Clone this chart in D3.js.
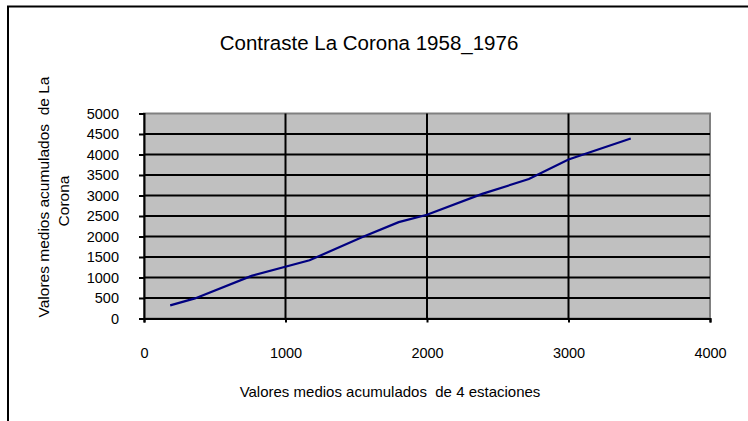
<!DOCTYPE html>
<html>
<head>
<meta charset="utf-8">
<script src="https://cdn.jsdelivr.net/npm/d3@7"></script>
<style>
  body { margin: 0; background: #fff; }
  text { font-family: "Liberation Sans", Arial, sans-serif; fill: #000; }
</style>
</head>
<body>
<script>
// cumulative mean values
const acumEstaciones = [185, 360, 760, 1170, 1540, 1800, 2000, 2390, 2720, 3000, 3440];
const acumCorona = [320, 490, 1040, 1420, 1980, 2350, 2530, 3040, 3400, 3880, 4390];
const xTicks = [0, 1000, 2000, 3000, 4000];
const yTicks = [0, 500, 1000, 1500, 2000, 2500, 3000, 3500, 4000, 4500, 5000];

const width = 748, height = 421;
const plot = { left: 144, right: 710, top: 113.5, bottom: 318.5 };

const svg = d3.select('body').append('svg')
    .attr('width', width)
    .attr('height', height);

// outer frame (only left and top edges visible)
svg.append('rect')
    .attr('x', 8).attr('y', 6.5)
    .attr('width', 800).attr('height', 500)
    .attr('fill', 'none').attr('stroke', '#000').attr('stroke-width', 2);

const x = d3.scaleLinear().domain([0, 4000]).range([plot.left, plot.right]);
const y = d3.scaleLinear().domain([0, 5000]).range([plot.bottom, plot.top]);

// grey plot area
svg.append('rect')
    .attr('x', plot.left).attr('y', plot.top)
    .attr('width', plot.right - plot.left).attr('height', plot.bottom - plot.top)
    .attr('fill', '#c0c0c0')
    .attr('stroke', '#808080').attr('stroke-width', 2);

// gridlines
svg.append('g').selectAll('line.h')
    .data(yTicks.filter(d => d > 0 && d < 5000))
    .enter().append('line')
    .attr('x1', plot.left).attr('x2', plot.right)
    .attr('y1', d => y(d)).attr('y2', d => y(d))
    .attr('stroke', '#000').attr('stroke-width', 2);

svg.append('g').selectAll('line.v')
    .data(xTicks.filter(d => d > 0 && d < 4000))
    .enter().append('line')
    .attr('y1', plot.top).attr('y2', plot.bottom)
    .attr('x1', d => x(d)).attr('x2', d => x(d))
    .attr('stroke', '#000').attr('stroke-width', 2);

// axes
const yAxis = svg.append('g')
    .attr('transform', `translate(${plot.left},0)`)
    .call(d3.axisLeft(y).tickValues(yTicks).tickSize(5).tickPadding(20).tickFormat(d3.format('d')));
const xAxis = svg.append('g')
    .attr('transform', `translate(0,${plot.bottom})`)
    .call(d3.axisBottom(x).tickValues(xTicks).tickSize(4).tickPadding(25).tickFormat(d3.format('d')));

[yAxis, xAxis].forEach(a => {
    a.select('.domain').attr('stroke', '#000').attr('stroke-width', 2);
    a.selectAll('.tick line').attr('stroke', '#000').attr('stroke-width', 2);
    a.selectAll('.tick text')
        .style('font-family', '"Liberation Sans", Arial, sans-serif')
        .style('font-size', '14.5px')
        .attr('fill', '#000');
});
yAxis.selectAll('.tick text').attr('x', -25);

// data line
const line = d3.line()
    .x((d, i) => x(acumEstaciones[i]))
    .y(d => y(d));

svg.append('path')
    .datum(acumCorona)
    .attr('d', line)
    .attr('fill', 'none')
    .attr('stroke', '#000080')
    .attr('stroke-width', 2.2);

// titles
svg.append('text')
    .attr('x', 369).attr('y', 50)
    .attr('text-anchor', 'middle')
    .style('font-size', '20.5px')
    .text('Contraste La Corona 1958_1976');

svg.append('text')
    .attr('x', 390).attr('y', 397)
    .attr('text-anchor', 'middle')
    .style('font-size', '15px')
    .style('white-space', 'pre')
    .text('Valores medios acumulados  de 4 estaciones');

svg.append('text')
    .attr('transform', 'translate(49,197) rotate(-90)')
    .attr('text-anchor', 'middle')
    .style('font-size', '15.5px')
    .style('white-space', 'pre')
    .text('Valores medios acumulados  de La');

svg.append('text')
    .attr('transform', 'translate(69,201) rotate(-90)')
    .attr('text-anchor', 'middle')
    .style('font-size', '15.5px')
    .text('Corona');
</script>
</body>
</html>
